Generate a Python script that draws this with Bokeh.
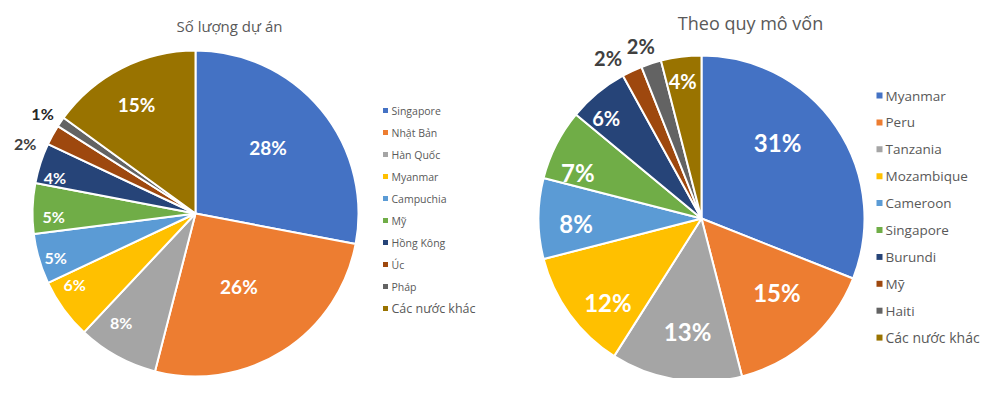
import numpy as np
from bokeh.plotting import figure
from bokeh.models import Range1d, ColumnDataSource
from bokeh.core.properties import value
from bokeh.embed import file_html
from bokeh.resources import INLINE

# ---- data ----
title_left = "Số lượng dự án"
labels_left = ["Singapore", "Nhật Bản", "Hàn Quốc", "Myanmar", "Campuchia",
               "Mỹ", "Hồng Kông", "Úc", "Pháp", "Các nước khác"]
values_left = [28, 26, 8, 6, 5, 5, 4, 2, 1, 15]

title_right = "Theo quy mô vốn"
labels_right = ["Myanmar", "Peru", "Tanzania", "Mozambique", "Cameroon",
                "Singapore", "Burundi", "Mỹ", "Haiti", "Các nước khác"]
values_right = [31, 15, 13, 12, 8, 7, 6, 2, 2, 4]

colors = ["#4472C4", "#ED7D31", "#A5A5A5", "#FFC000", "#5B9BD5",
          "#70AD47", "#264478", "#9E480E", "#636363", "#997300"]

# ---- style (label placement / sizes) ----
lab_frac_left = [0.60, 0.52, 0.81, 0.86, 0.90, 0.87, 0.89, 1.13, 1.12, 0.76]
lab_rot_left = [-2.5, 1.6, 5.4, 5.6, -1.4, -3.0, -3.6, -6.4, -1.1, -1.4]
lab_size_left = [19, 19, 16, 16, 16, 16, 16, 16, 16, 19]
lab_col_left = ["white"] * 7 + ["#404040", "#262626", "white"]
leg_size_left = ["10.5px"] * 9 + ["12.5px"]

lab_frac_right = [0.66, 0.65, 0.70, 0.77, 0.77, 0.81, 0.85, 1.14, 1.12, 0.85]
lab_rot_right = [-10.8, -4.0, -2.0, -5.8, -2.3, -6.6, -3.9, -5.0, -1.4, -0.6]
lab_size_right = [24, 24, 24, 24, 24, 24, 20, 20, 20, 20]
lab_col_right = ["white"] * 7 + ["#404040", "#404040", "white"]
leg_size_right = ["13.5px"] * 9 + ["14px"]

W, H = 983, 378
p = figure(width=W, height=H, x_range=Range1d(0, W), y_range=Range1d(0, H),
           output_backend="svg", toolbar_location=None, min_border=0)
p.axis.visible = False
p.grid.visible = False
p.outline_line_color = None
p.background_fill_color = "white"


def Y(sy):
    return H - sy


def X(sx):
    return sx


def pie(cx, cy, r, vals, fracs, rots, sizes, lcols):
    v = np.array(vals, dtype=float)
    tot = v.sum()
    cum = np.concatenate([[0], np.cumsum(v)]) / tot
    start = np.pi / 2 - 2 * np.pi * cum[:-1]
    end = np.pi / 2 - 2 * np.pi * cum[1:]
    src = ColumnDataSource(dict(start=start, end=end, color=colors))
    p.wedge(x=cx, y=cy, radius=r, start_angle="start", end_angle="end",
            direction="clock", fill_color="color", line_color="white",
            line_width=2, source=src)
    mid = (start + end) / 2 - np.radians(rots)
    fr = np.array(fracs)
    lx = cx + r * fr * np.cos(mid)
    ly = cy + r * fr * np.sin(mid)
    txt = ["%d%%" % round(x) for x in v / tot * 100]
    ls = ColumnDataSource(dict(x=lx, y=ly, t=txt, c=lcols,
                               s=["%dpx" % s for s in sizes]))
    p.text(x="x", y="y", text="t", text_color="c", text_font_size="s",
           text_font=value("Lato"), text_font_style="bold",
           text_align="center", text_baseline="middle", source=ls)


def legend(x0, y0, dy, labels, fsizes, msize):
    n = len(labels)
    ys = [y0 - i * dy for i in range(n)]
    p.scatter(x=[x0] * n, y=ys, marker="square", size=msize,
              fill_color=colors, line_color=None)
    src = ColumnDataSource(dict(x=[x0 + 6] * n, y=ys, t=labels, s=fsizes))
    p.text(x="x", y="y", text="t", text_color="#595959",
           text_font_size="s", text_font=value("Open Sans"),
           text_align="left", text_baseline="middle", source=src)


# left pie
pie(X(195), Y(213), 163, values_left, lab_frac_left, lab_rot_left,
    lab_size_left, lab_col_left)
p.text(x=[X(229)], y=[Y(25)], text=[title_left], text_color="#595959",
       text_font_size="15px", text_font=value("Open Sans"),
       text_align="center", text_baseline="middle")
legend(X(385), Y(110), 22, labels_left, leg_size_left, 5)

# right pie
pie(X(701), Y(218), 163, values_right, lab_frac_right, lab_rot_right,
    lab_size_right, lab_col_right)
p.text(x=[X(750)], y=[Y(22)], text=[title_right], text_color="#595959",
       text_font_size="18px", text_font=value("Open Sans"),
       text_align="center", text_baseline="middle")
legend(X(879), Y(95), 26.9, labels_right, leg_size_right, 6)

open("out.html", "w").write(file_html(p, INLINE))
